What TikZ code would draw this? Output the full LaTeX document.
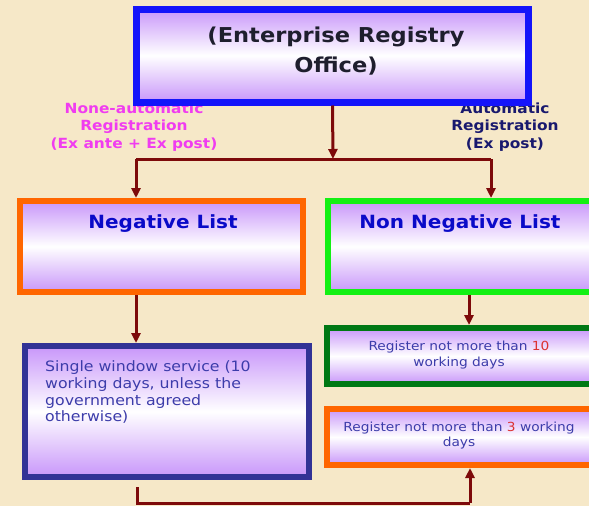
\documentclass[tikz,border=0pt]{standalone}
\usepackage{fontspec}
\setmainfont{DejaVu Sans}[FakeStretch=1.1]
\usetikzlibrary{arrows.meta}
\definecolor{bgc}{RGB}{246,232,200}
\definecolor{lav}{RGB}{200,150,250}
\definecolor{arr}{RGB}{125,10,10}
\definecolor{bblue}{RGB}{20,20,250}
\definecolor{orng}{RGB}{255,102,0}
\definecolor{lgrn}{RGB}{20,240,20}
\definecolor{dgrn}{RGB}{0,120,20}
\definecolor{navyb}{RGB}{50,50,150}
\definecolor{ttl}{RGB}{30,30,45}
\definecolor{ttlblue}{RGB}{10,10,200}
\definecolor{txt}{RGB}{60,60,170}
\definecolor{mag}{RGB}{240,60,240}
\definecolor{nav}{RGB}{25,25,110}
\definecolor{rednum}{RGB}{220,50,50}
\tikzset{
  box/.style={draw, line width=6pt, rectangle, inner sep=0pt, top color=lav, bottom color=lav, middle color=white},
  conn/.style={draw=arr, line width=3pt},
  arrw/.style={conn, -{Triangle[length=10pt,width=9pt]}},
}
\begin{document}
\begin{tikzpicture}[x=1pt,y=-1pt]
\useasboundingbox (0,0) rectangle (589,506);
\clip (0,0) rectangle (589,506);
\fill[bgc] (0,0) rectangle (589,506);
% labels (under the top box)
\node[font=\fontsize{14}{17.5}\selectfont\bfseries, text=mag, align=center] (lblL) at (134,127) {None-automatic\\Registration\\(Ex ante + Ex post)};
\node[font=\fontsize{14}{17.5}\selectfont\bfseries, text=nav, align=center] (lblR) at (505,127) {Automatic\\Registration\\(Ex post)};
% boxes
\node[box, draw=bblue, line width=7pt, minimum width=392pt, minimum height=93pt] (top) at (332.5,55.5) {};
\node[box, draw=orng, minimum width=283pt, minimum height=91pt] (neg) at (161.5,246.5) {};
\node[box, draw=lgrn, minimum width=278pt, minimum height=91pt, anchor=west] (nonneg) at (325,246.5) {};
\node[box, draw=navyb, minimum width=284pt, minimum height=131pt] (single) at (167,411.5) {};
\node[box, draw=dgrn, minimum width=278pt, minimum height=56pt, anchor=west] (reg10) at (324,356) {};
\node[box, draw=orng, minimum width=278pt, minimum height=56pt, anchor=west] (reg3) at (324,437) {};
% texts
\node[font=\fontsize{20.5}{29.5}\selectfont\bfseries, text=ttl, align=center] (toptxt) at (336,51) {(Enterprise Registry\\Office)};
\node[font=\fontsize{18.2}{20}\selectfont\bfseries, text=ttlblue] (negtxt) at (163,224) {Negative List};
\node[font=\fontsize{18.2}{20}\selectfont\bfseries, text=ttlblue] (nonnegtxt) at (460,224) {Non Negative List};
\node[font=\fontsize{14.3}{16.8}\selectfont, text=txt, align=left, anchor=north west, inner sep=0pt] (singletxt) at (45,360.5) {Single window service (10\\working days, unless the\\government agreed\\otherwise)};
\node[font=\fontsize{12.5}{16.5}\selectfont, text=txt, align=center] (reg10txt) at (459,355) {Register not more than \textcolor{rednum}{10}\\working days};
\node[font=\fontsize{12.5}{15}\selectfont, text=txt, align=center] (reg3txt) at (459,436) {Register not more than \textcolor{rednum}{3} working\\days};
% connectors
\coordinate (j) at (333,159);
\coordinate (jl) at (136,159);
\coordinate (jr) at (491,159);
\coordinate (b1) at (137,487);
\coordinate (b2) at (137,503);
\coordinate (b3) at (470,503);
\coordinate (c1) at (469,295);
\draw[arrw] (top.south) -- (j);
\draw[conn] (jl) -- (jr);
\draw[arrw] (jl) -- (jl |- neg.north);
\draw[arrw] (jr) -- (jr |- nonneg.north);
\draw[arrw] (neg.south -| jl) -- (jl |- single.north);
\draw[arrw] (c1) -- (c1 |- reg10.north);
\draw[conn] (b1) -- (b2) -- (b3);
\draw[arrw] (b3) -- (reg3.south -| b3);
\end{tikzpicture}
\end{document}
